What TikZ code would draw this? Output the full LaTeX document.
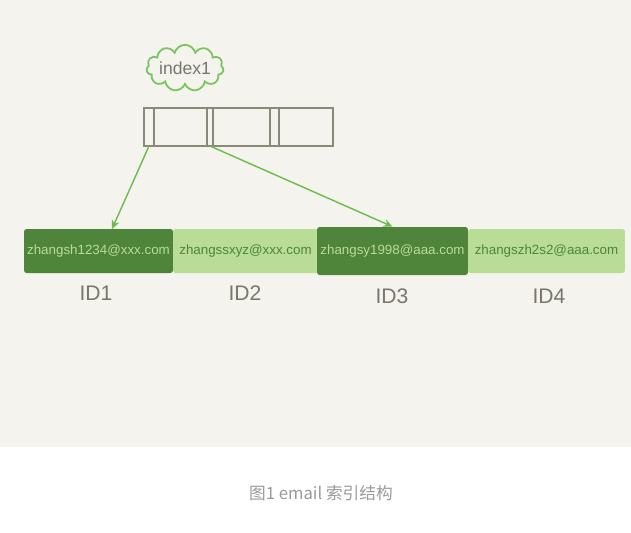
\documentclass[tikz,border=0pt]{standalone}
\usepackage{fontspec}
\setmainfont{Liberation Sans}
\newfontfamily\cjk{Noto Sans CJK SC}
\usetikzlibrary{positioning,shapes.symbols,arrows.meta}

\definecolor{paper}{HTML}{F4F3EE}
\definecolor{boxgray}{HTML}{8C887C}
\definecolor{idgray}{HTML}{7A766C}
\definecolor{darkleaf}{HTML}{4E853B}
\definecolor{lightleaf}{HTML}{B9DC97}
\definecolor{linkgreen}{HTML}{69BE4B}
\definecolor{capgray}{HTML}{9A9A9A}

\tikzset{
    cell/.style={draw=boxgray, line width=0.8pt, minimum height=0.76cm,
        inner sep=0pt, outer sep=0pt},
    email/.style={rounded corners=1.5pt, minimum height=0.88cm, inner sep=0pt,
        font=\fontsize{7.6}{9}\selectfont},
    darkrow/.style={email, fill=darkleaf, text=lightleaf},
    lightrow/.style={email, fill=lightleaf, text=darkleaf},
    idlabel/.style={text=idgray, font=\fontsize{12}{14}\selectfont},
    link/.style={-{Stealth[length=5pt, width=4.5pt]}, draw=linkgreen, fill=linkgreen,
        line width=0.8pt}
}

\begin{document}
\begin{tikzpicture}[x=0.02cm, y=-0.02cm]
    \useasboundingbox (0,0) rectangle (631,532);
    \fill[white] (0,0) rectangle (631,532);
    \fill[paper] (0,0) rectangle (631,447);

    % index name
    \node[cloud, cloud puffs=11, aspect=2.3, draw=linkgreen!90, line width=1pt,
        minimum width=1.45cm, minimum height=0.64cm, inner sep=0pt,
        text=idgray, font=\fontsize{10}{12}\selectfont] (name) at (185,68) {index1};

    % index page
    \node[cell, minimum width=0.2cm] (p1) at (149,127) {};
    \node[cell, minimum width=1.06cm, right=0pt of p1] (k1) {};
    \node[cell, minimum width=0.12cm, right=0pt of k1] (p2) {};
    \node[cell, minimum width=1.14cm, right=0pt of p2] (k2) {};
    \node[cell, minimum width=0.18cm, right=0pt of k2] (p3) {};
    \node[cell, minimum width=1.08cm, right=0pt of p3] (k3) {};

    % rows
    \node[darkrow, minimum width=2.98cm] (e1) at (98.5,251) {zhangsh1234@xxx.com};
    \node[lightrow, minimum width=2.9cm] (e2) at (245.5,251) {zhangssxyz@xxx.com};
    \node[darkrow, minimum width=3.02cm, minimum height=0.96cm] (e3) at (392.5,251) {zhangsy1998@aaa.com};
    \node[lightrow, minimum width=3.14cm] (e4) at (546.5,251) {zhangszh2s2@aaa.com};

    \foreach \i/\x/\y in {1/96/293, 2/245/293, 3/392/296, 4/549/296}
        \node[idlabel] (id\i) at (\x,\y) {ID\i};

    % pointers
    \coordinate (t1) at (112,229);
    \draw[link] (p1.south) -- (t1);
    \draw[link] (p2.south) -- (e3.north);

    \node[text=capgray, font=\cjk\fontsize{9.5}{11}\selectfont] (caption) at (321,493)
        {图1 email 索引结构};
\end{tikzpicture}
\end{document}
